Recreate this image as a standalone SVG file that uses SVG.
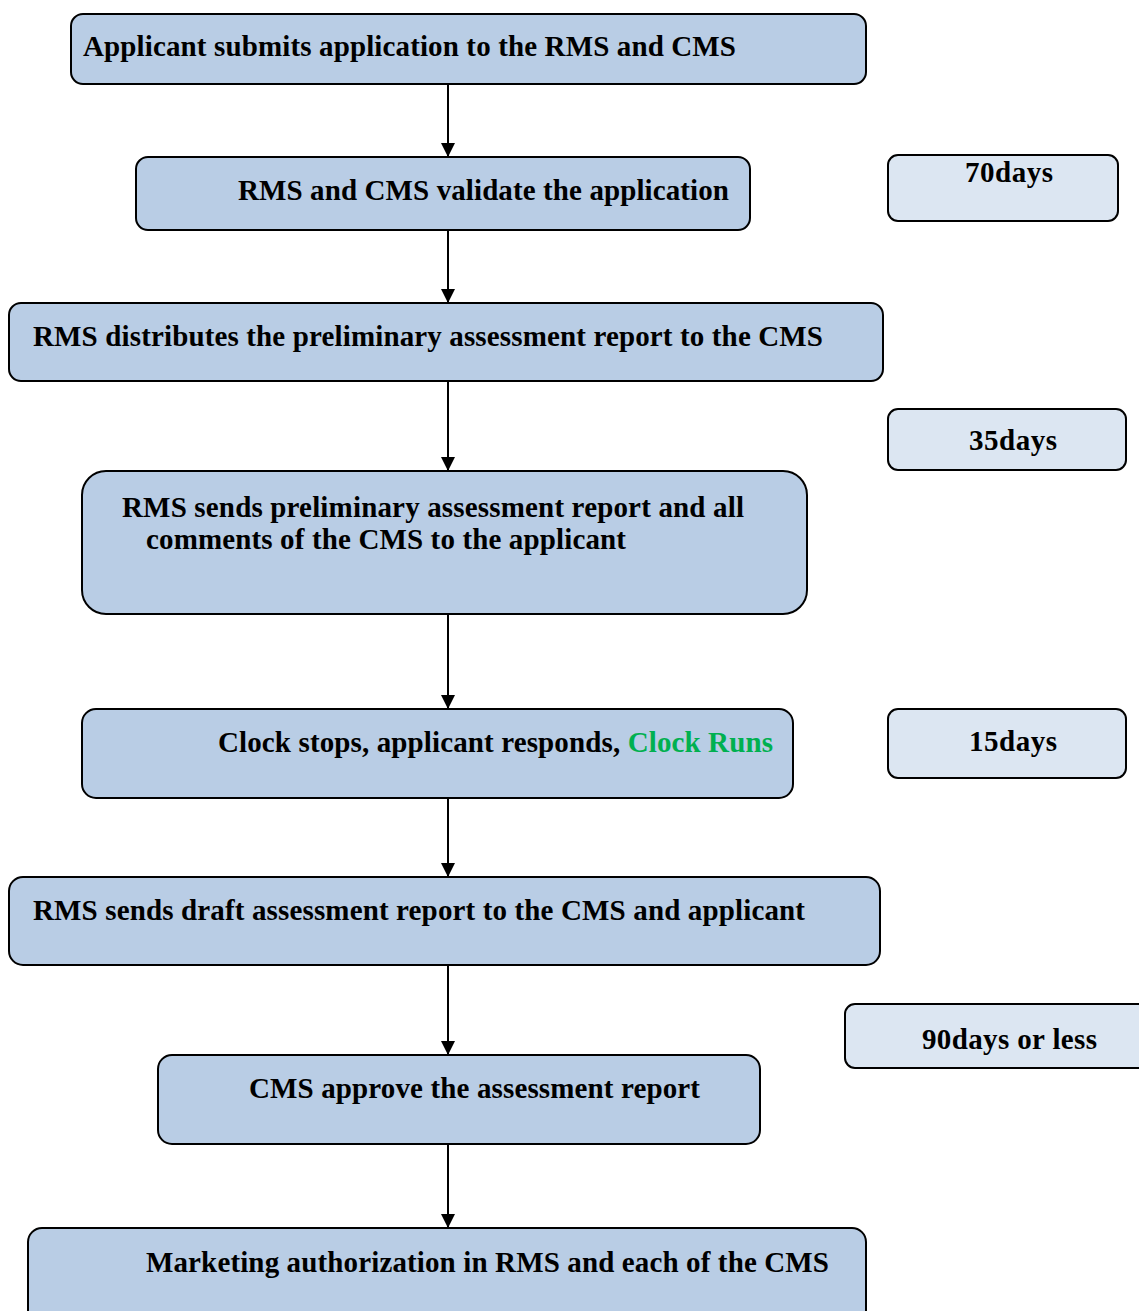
<svg xmlns="http://www.w3.org/2000/svg" width="1139" height="1311" viewBox="0 0 1139 1311">
<defs>
<style>
.box{fill:#B9CDE5;stroke:#000;stroke-width:2}
.side{fill:#DCE6F2;stroke:#000;stroke-width:2}
.t{font-family:"Liberation Serif","Times New Roman",serif;font-weight:bold;font-size:29px;fill:#000}
.g{fill:#00B050}
.c{stroke:#000;stroke-width:2;fill:none;marker-end:url(#ah)}
</style>
<marker id="ah" viewBox="0 0 14 14" refX="14" refY="7" markerWidth="14" markerHeight="14" markerUnits="userSpaceOnUse" orient="auto">
<path d="M0,0 L14,7 L0,14 z" fill="#000"/>
</marker>
</defs>
<rect width="1139" height="1311" fill="#fff"/>
<g id="connectors">
<line class="c" x1="448" y1="84" x2="448" y2="157"/>
<line class="c" x1="448" y1="230" x2="448" y2="303"/>
<line class="c" x1="448" y1="381" x2="448" y2="471"/>
<line class="c" x1="448" y1="614" x2="448" y2="709"/>
<line class="c" x1="448" y1="798" x2="448" y2="877"/>
<line class="c" x1="448" y1="965" x2="448" y2="1055"/>
<line class="c" x1="448" y1="1144" x2="448" y2="1228"/>
</g>
<g id="n1"><rect class="box" x="71" y="14" width="795" height="70" rx="12"/><text class="t" x="83" y="56" textLength="653" lengthAdjust="spacing">Applicant submits application to the RMS and CMS</text></g>
<g id="n2"><rect class="box" x="136" y="157" width="614" height="73" rx="12"/><text class="t" x="238" y="200" textLength="491" lengthAdjust="spacing">RMS and CMS validate the application</text></g>
<g id="n3"><rect class="box" x="9" y="303" width="874" height="78" rx="12"/><text class="t" x="33" y="346" textLength="790" lengthAdjust="spacing">RMS distributes the preliminary assessment report to the CMS</text></g>
<g id="n4"><rect class="box" x="82" y="471" width="725" height="143" rx="24"/><text class="t" x="122" y="517" textLength="622" lengthAdjust="spacing">RMS sends preliminary assessment report and all</text><text class="t" x="146" y="549" textLength="480" lengthAdjust="spacing">comments of the CMS to the applicant</text></g>
<g id="n5"><rect class="box" x="82" y="709" width="711" height="89" rx="14"/><text class="t" x="218" y="752" textLength="555" lengthAdjust="spacing">Clock stops, applicant responds, <tspan class="g">Clock Runs</tspan></text></g>
<g id="n6"><rect class="box" x="9" y="877" width="871" height="88" rx="14"/><text class="t" x="33" y="920" textLength="772" lengthAdjust="spacing">RMS sends draft assessment report to the CMS and applicant</text></g>
<g id="n7"><rect class="box" x="158" y="1055" width="602" height="89" rx="14"/><text class="t" x="249" y="1098" textLength="451" lengthAdjust="spacing">CMS approve the assessment report</text></g>
<g id="n8"><rect class="box" x="28" y="1228" width="838" height="100" rx="14"/><text class="t" x="146" y="1272" textLength="683" lengthAdjust="spacing">Marketing authorization in RMS and each of the CMS</text></g>
<g id="d1"><rect class="side" x="888" y="155" width="230" height="66" rx="10"/><text class="t" x="965" y="182" textLength="88" lengthAdjust="spacing">70days</text></g>
<g id="d2"><rect class="side" x="888" y="409" width="238" height="61" rx="10"/><text class="t" x="969" y="450" textLength="88" lengthAdjust="spacing">35days</text></g>
<g id="d3"><rect class="side" x="888" y="709" width="238" height="69" rx="10"/><text class="t" x="969" y="751" textLength="88" lengthAdjust="spacing">15days</text></g>
<g id="d4"><rect class="side" x="845" y="1004" width="310" height="64" rx="10"/><text class="t" x="922" y="1049" textLength="175" lengthAdjust="spacing">90days or less</text></g>
</svg>
